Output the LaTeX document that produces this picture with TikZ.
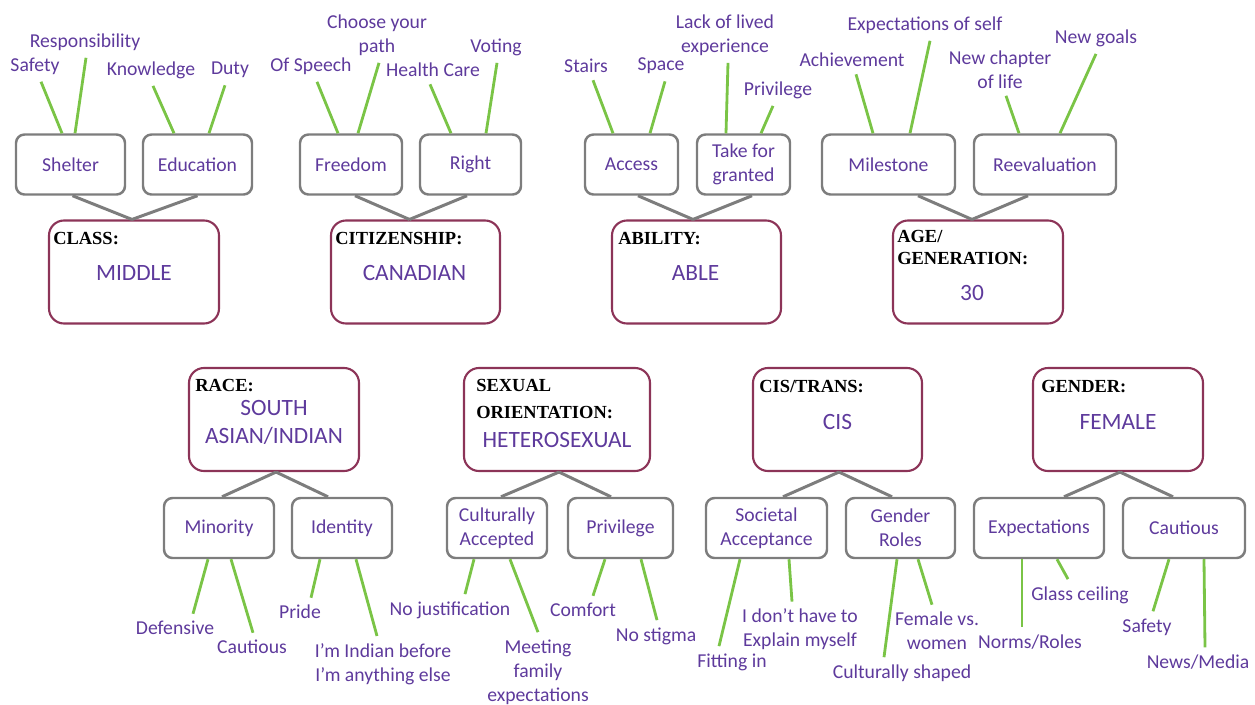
\documentclass[tikz,border=0pt]{standalone}
\usepackage{fontspec}
\setmainfont{Carlito}
\newfontfamily\hdfont{Liberation Serif}
\usetikzlibrary{calc}
\definecolor{txtpurple}{RGB}{94,58,156}
\definecolor{boxgray}{RGB}{125,125,125}
\definecolor{catred}{RGB}{140,52,88}
\definecolor{leafgreen}{RGB}{122,196,70}

\begin{document}
\begin{tikzpicture}[x=0.02cm,y=-0.02cm,
    sub/.style={draw=boxgray,line width=1.4pt,rounded corners=0.17cm,inner sep=0pt,
      minimum width=#1*0.02cm,minimum height=60*0.02cm,text=txtpurple,align=center,
      font=\fontsize{11.2}{13.7}\selectfont},
    cat/.style={draw=catred,line width=1.2pt,rounded corners=0.3cm,inner sep=0pt,
      minimum width=#1*0.02cm,minimum height=103*0.02cm},
    hd/.style={anchor=west,inner sep=0pt,align=left,font=\hdfont\bfseries\fontsize{10.5}{13}\selectfont},
    val/.style={text=txtpurple,align=center,inner sep=0pt,font=\fontsize{13.3}{16.3}\selectfont},
    leaf/.style={text=txtpurple,align=center,inner sep=4pt,font=\fontsize{11.2}{13.7}\selectfont},
    link/.style={draw=boxgray,line width=1.7pt},
    twig/.style={draw=leafgreen,line width=1.6pt}]
  \useasboundingbox (0,0) rectangle (1255,704);

  % top row
  \node[sub=109] (shelter) at (70.5,164.5) {Shelter};
  \node[sub=109] (educ) at (197.5,164.5) {Education};
  \node[sub=102] (freedom) at (351,164.5) {Freedom};
  \node[sub=101] (rights) at (470.5,164.5) {Right};
  \node[sub=93] (access) at (631.5,164.5) {Access};
  \node[sub=93] (granted) at (743.5,164.5) {Take for\\granted};
  \node[sub=133] (milestone) at (888.5,164.5) {Milestone};
  \node[sub=142] (reeval) at (1045,164.5) {Reevaluation};

  \node[cat=170] (class) at (134,272) {};
  \node[cat=169] (citizen) at (415.5,272) {};
  \node[cat=169] (ability) at (696.5,272) {};
  \node[cat=170] (age) at (978,272) {};

  \node[hd] (classhd) at ($(class.north west)+(5,19)$) {CLASS:};
  \node[hd] (citizenhd) at ($(citizen.north west)+(5,19)$) {CITIZENSHIP:};
  \node[hd] (abilityhd) at ($(ability.north west)+(7,19)$) {ABILITY:};
  \node[hd] (agehd) at ($(age.north west)+(5,28)$) {AGE/\\GENERATION:};
  \node[val] (middle) at ($(class)+(0,1)$) {MIDDLE};
  \node[val] (canadian) at ($(citizen)+(-1,1)$) {CANADIAN};
  \node[val] (able) at ($(ability)+(-1,1)$) {ABLE};
  \node[val] (thirty) at ($(age)+(-6,21)$) {30};

  \node[leaf] (safety) at (35,66) {Safety};
  \node[leaf] (resp) at (85,42) {Responsibility};
  \node[leaf] (knowledge) at (151,70) {Knowledge};
  \node[leaf] (duty) at (230,70) {Duty};
  \node[leaf] (speech) at (311,66) {Of Speech};
  \node[leaf] (choose) at (377,35) {Choose your\\path};
  \node[leaf] (health) at (433,70) {Health Care};
  \node[leaf] (voting) at (496,47) {Voting};
  \node[leaf] (stairs) at (586,66) {Stairs};
  \node[leaf] (space) at (661,66) {Space};
  \node[leaf] (lack) at (725,35) {Lack of lived\\experience};
  \node[leaf] (privilege) at (778,90) {Privilege};
  \node[leaf] (achieve) at (852,60) {Achievement};
  \node[leaf] (selfexp) at (925,25) {Expectations of self};
  \node[leaf] (chapter) at (1000,69.5) {New chapter\\of life};
  \node[leaf] (goals) at (1096,38) {New goals};

  \foreach \c/\dc/\p/\dp in {shelter/2/class/-2, educ/0/class/-2, freedom/4/citizen/-6,
      rights/-3.5/citizen/-6, access/6.5/ability/-3.5, granted/8.5/ability/-3.5,
      milestone/29.5/age/-6, reeval/-17/age/-6}
    \draw[link] ($(\c.south)+(\dc,0)$) -- ($(\p.north)+(\dp,0)$);

  \foreach \b/\db/\l/\dl in {shelter/-8.5/safety/6, shelter/4.5/resp/1, educ/-23.5/knowledge/2,
      educ/11.5/duty/-5, freedom/-13/speech/6, freedom/7/choose/2, rights/-19.5/health/-3,
      rights/15.5/voting/1, access/-18.5/stairs/7, access/18.5/space/4, granted/-17.5/lack/3,
      granted/17.5/privilege/-5, milestone/-15.5/achieve/4, milestone/21.5/selfexp/5,
      reeval/-26/chapter/6, reeval/15/goals/0}
    \draw[twig] ($(\b.north)+(\db,0)$) -- ($(\l.south)+(\dl,0)$);

  % bottom row
  \node[cat=170] (race) at (274,419.5) {};
  \node[cat=186] (sexor) at (557,419.5) {};
  \node[cat=169] (cistrans) at (837.5,419.5) {};
  \node[cat=170] (gender) at (1118,419.5) {};

  \node[hd] (racehd) at ($(race.north west)+(7,19)$) {RACE:};
  \node[hd] (sexorhd) at ($(sexor.north west)+(13,32)$) {SEXUAL\\[2.5pt]ORIENTATION:};
  \node[hd] (cistranshd) at ($(cistrans.north west)+(7,20)$) {CIS/TRANS:};
  \node[hd] (genderhd) at ($(gender.north west)+(9,20)$) {GENDER:};
  \node[val] (southasian) at ($(race)+(0,3)$) {SOUTH\\ASIAN/INDIAN};
  \node[val] (hetero) at ($(sexor)+(0,20)$) {HETEROSEXUAL};
  \node[val] (cis) at ($(cistrans)+(0,2)$) {CIS};
  \node[val] (female) at ($(gender)+(0,2)$) {FEMALE};

  \node[sub=110] (minority) at (219,528) {Minority};
  \node[sub=100] (identity) at (342,528) {Identity};
  \node[sub=100] (accepted) at (497,528) {Culturally\\Accepted};
  \node[sub=105] (privb) at (620.5,528) {Privilege};
  \node[sub=121] (societal) at (766.5,528) {Societal\\Acceptance};
  \node[sub=109] (roles) at (900.5,528) {Gender\\Roles};
  \node[sub=130] (expect) at (1039,528) {Expectations};
  \node[sub=122] (cautb) at (1184,528) {Cautious};

  \node[leaf] (defensive) at (175,628) {Defensive};
  \node[leaf] (cauta) at (252,647) {Cautious};
  \node[leaf] (pride) at (300,612) {Pride};
  \node[leaf] (indian) at (383,664) {I'm Indian before\\I'm anything else};
  \node[leaf] (nojust) at (450,610) {No justification};
  \node[leaf] (meeting) at (538,672) {Meeting\\family\\expectations};
  \node[leaf] (comfort) at (583,610) {Comfort};
  \node[leaf] (nostigma) at (656,636) {No stigma};
  \node[leaf] (fitting) at (732,662) {Fitting in};
  \node[leaf] (explain) at (800,629.5) {I don't have to\\Explain myself};
  \node[leaf] (shaped) at (902,673) {Culturally shaped};
  \node[leaf] (femalevs) at (937,631) {Female vs.\\women};
  \node[leaf] (norms) at (1030,642) {Norms/Roles};
  \node[leaf] (glass) at (1080,595) {Glass ceiling};
  \node[leaf] (safetyb) at (1147,627) {Safety};
  \node[leaf] (news) at (1198,662) {News/Media};

  \foreach \p/\dp/\c/\dc in {race/2/minority/3, race/2/identity/-14, sexor/2/accepted/4,
      sexor/2/privb/-9.5, cistrans/1.5/societal/16.5, cistrans/1.5/roles/-8.5,
      gender/2/expect/25, gender/2/cautb/-11}
    \draw[link] ($(\p.south)+(\dp,0)$) -- ($(\c.north)+(\dc,0)$);

  \foreach \b/\db/\l/\dl in {minority/-11/defensive/18, minority/12/cauta/1, identity/-22/pride/11,
      identity/14/indian/-6, accepted/-23/nojust/15, accepted/13/meeting/0, privb/-15.5/comfort/10,
      privb/20.5/nostigma/1, societal/-26.5/fitting/-13, societal/22.5/explain/-8,
      roles/-3.5/shaped/-18, roles/17.5/femalevs/-5, expect/-17/norms/-8, expect/18/glass/-12,
      cautb/-15/safetyb/6, cautb/20/news/7}
    \draw[twig] ($(\b.south)+(\db,0)$) -- ($(\l.north)+(\dl,0)$);
\end{tikzpicture}
\end{document}
